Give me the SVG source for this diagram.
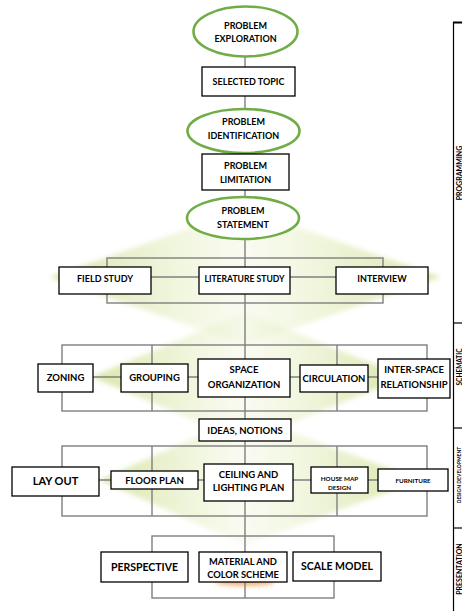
<svg xmlns="http://www.w3.org/2000/svg" width="462" height="611" viewBox="0 0 462 611">
<style>
.bx{fill:#fff;stroke:#000;stroke-width:1.3}
.el{fill:#fff;stroke:#70AD47;stroke-width:2.6}
.ln{fill:none;stroke:#7f7f7f;stroke-width:1.4}
.col{fill:none;stroke:#000;stroke-width:1.2}
text{font-family:Lato,"Liberation Sans",sans-serif;font-weight:bold;fill:#000;text-anchor:middle}
.fan{filter:url(#soft)}
</style>
<defs>
<linearGradient id="gl" x1="0" y1="0" x2="1" y2="0">
<stop offset="0" stop-color="#c6da80" stop-opacity="0.7"/>
<stop offset="0.6" stop-color="#dbe8ad" stop-opacity="0.45"/>
<stop offset="1" stop-color="#eef4d8" stop-opacity="0.35"/>
</linearGradient>
<linearGradient id="gr" x1="1" y1="0" x2="0" y2="0">
<stop offset="0" stop-color="#c6da80" stop-opacity="0.7"/>
<stop offset="0.6" stop-color="#dbe8ad" stop-opacity="0.45"/>
<stop offset="1" stop-color="#eef4d8" stop-opacity="0.35"/>
</linearGradient>
<filter id="soft" x="-10%" y="-10%" width="120%" height="120%"><feGaussianBlur stdDeviation="2.5"/></filter>
<filter id="blur" x="-50%" y="-50%" width="200%" height="200%"><feGaussianBlur stdDeviation="2"/></filter>
</defs>
<rect width="462" height="611" fill="#fff"/>

<g id="background">
<g class="fan">
<polygon points="50,277 245,209 245,345" fill="url(#gl)"/>
<polygon points="440,277 245,209 245,345" fill="url(#gr)"/>
<polygon points="92,377 245,312 245,442" fill="url(#gl)"/>
<polygon points="405,377 245,312 245,442" fill="url(#gr)"/>
<polygon points="100,480 245,415 245,545" fill="url(#gl)"/>
<polygon points="420,480 245,415 245,545" fill="url(#gr)"/>
</g>
<ellipse cx="245" cy="582" rx="30" ry="4" fill="#f4a460" opacity="0.8" filter="url(#blur)"/>
</g>

<g id="connectors">
<line class="ln" x1="245" y1="57" x2="245" y2="598"/>
<rect class="ln" x="107" y="258" width="276" height="45"/>
<line class="ln" x1="150" y1="277" x2="336" y2="277"/>
<rect class="ln" x="62" y="345" width="365" height="66"/>
<line class="ln" x1="152" y1="345" x2="152" y2="411"/>
<line class="ln" x1="337" y1="345" x2="337" y2="411"/>
<line class="ln" x1="93" y1="377" x2="378" y2="377"/>
<rect class="ln" x="62" y="446" width="365" height="70"/>
<line class="ln" x1="152" y1="446" x2="152" y2="516"/>
<line class="ln" x1="337" y1="446" x2="337" y2="516"/>
<line class="ln" x1="99" y1="480" x2="378" y2="480"/>
<rect class="ln" x="152" y="536" width="182" height="62"/>
</g>

<g id="problem-exploration"><ellipse class="el" cx="245.5" cy="31.5" rx="52" ry="25"/><text x="245.5" y="29" font-size="9">PROBLEM</text><text x="245.5" y="42" font-size="9">EXPLORATION</text></g>
<g id="selected-topic"><rect class="bx" x="202" y="67" width="93" height="29"/><text x="248.5" y="84.5" font-size="9">SELECTED TOPIC</text></g>
<g id="problem-identification"><ellipse class="el" cx="243.5" cy="131" rx="56" ry="22"/><text x="243.5" y="125" font-size="9">PROBLEM</text><text x="243.5" y="138.5" font-size="9">IDENTIFICATION</text></g>
<g id="problem-limitation"><rect class="bx" x="202" y="154" width="87" height="36"/><text x="245.5" y="169" font-size="9">PROBLEM</text><text x="245.5" y="182.5" font-size="9">LIMITATION</text></g>
<g id="problem-statement"><ellipse class="el" cx="243" cy="218" rx="56" ry="21"/><text x="243" y="214" font-size="9">PROBLEM</text><text x="243" y="228" font-size="9">STATEMENT</text></g>

<g id="field-study"><rect class="bx" x="59" y="267" width="92" height="27"/><text x="105" y="281.5" font-size="9">FIELD STUDY</text></g>
<g id="literature-study"><rect class="bx" x="199" y="267" width="91" height="27"/><text x="244.5" y="281.5" font-size="8.6">LITERATURE STUDY</text></g>
<g id="interview"><rect class="bx" x="336" y="267" width="92" height="27"/><text x="382" y="281.5" font-size="9">INTERVIEW</text></g>

<g id="zoning"><rect class="bx" x="38" y="364" width="55" height="28"/><text x="65.5" y="381" font-size="9.5">ZONING</text></g>
<g id="grouping"><rect class="bx" x="121" y="364" width="67" height="28"/><text x="154.5" y="381" font-size="9.5">GROUPING</text></g>
<g id="space-organization"><rect class="bx" x="198" y="359" width="92" height="38"/><text x="244" y="373" font-size="9.5">SPACE</text><text x="244" y="388" font-size="9.5">ORGANIZATION</text></g>
<g id="circulation"><rect class="bx" x="300" y="365" width="68" height="27"/><text x="334" y="382" font-size="9.5">CIRCULATION</text></g>
<g id="inter-space"><rect class="bx" x="378" y="359" width="72" height="39"/><text x="414" y="373" font-size="9.5">INTER-SPACE</text><text x="414" y="388" font-size="9.5">RELATIONSHIP</text></g>

<g id="ideas-notions"><rect class="bx" x="199" y="419" width="92" height="22"/><text x="245" y="434" font-size="9.5">IDEAS, NOTIONS</text></g>

<g id="lay-out"><rect class="bx" x="12" y="467" width="87" height="29"/><text x="55.5" y="485" font-size="11">LAY OUT</text></g>
<g id="floor-plan"><rect class="bx" x="111" y="471" width="87" height="18"/><text x="154.5" y="484" font-size="9.5">FLOOR PLAN</text></g>
<g id="ceiling-lighting"><rect class="bx" x="204" y="464" width="89" height="37"/><text x="248.5" y="477.5" font-size="9.5">CEILING AND</text><text x="248.5" y="491" font-size="9.5">LIGHTING PLAN</text></g>
<g id="house-map"><rect class="bx" x="311" y="467" width="57" height="26"/><text x="339.5" y="480.5" font-size="6.3">HOUSE  MAP</text><text x="339.5" y="489.5" font-size="6.3">DESIGN</text></g>
<g id="furniture"><rect class="bx" x="378" y="469" width="70" height="22"/><text x="413" y="482.5" font-size="6.3">FURNITURE</text></g>

<g id="perspective"><rect class="bx" x="101" y="552" width="87" height="30"/><text x="144.5" y="570.5" font-size="10.5">PERSPECTIVE</text></g>
<g id="material-color"><rect class="bx" x="199" y="552" width="88" height="30"/><text x="243" y="564.5" font-size="9.3">MATERIAL AND</text><text x="243" y="577.5" font-size="9.3">COLOR SCHEME</text></g>
<g id="scale-model"><rect class="bx" x="293" y="552" width="88" height="29"/><text x="337" y="570" font-size="10.5">SCALE  MODEL</text></g>

<g id="phases">
<line class="col" x1="453.5" y1="22" x2="453.5" y2="611"/>
<line x1="453" y1="22.5" x2="462" y2="22.5" stroke="#000" stroke-width="2"/>
<line class="col" x1="453" y1="323" x2="462" y2="323"/>
<line class="col" x1="453" y1="428" x2="462" y2="428"/>
<line class="col" x1="453" y1="528" x2="462" y2="528"/>
<text transform="translate(461.5,173) rotate(-90)" font-size="7">PROGRAMMING</text>
<text transform="translate(461.5,367) rotate(-90)" font-size="6.5">SCHEMATIC</text>
<text transform="translate(460.5,475) rotate(-90)" font-size="5" font-weight="normal" fill="#333">DESIGN  DEVELOPMENT</text>
<text transform="translate(461.5,569) rotate(-90)" font-size="7">PRESENTATION</text>
</g>
</svg>
